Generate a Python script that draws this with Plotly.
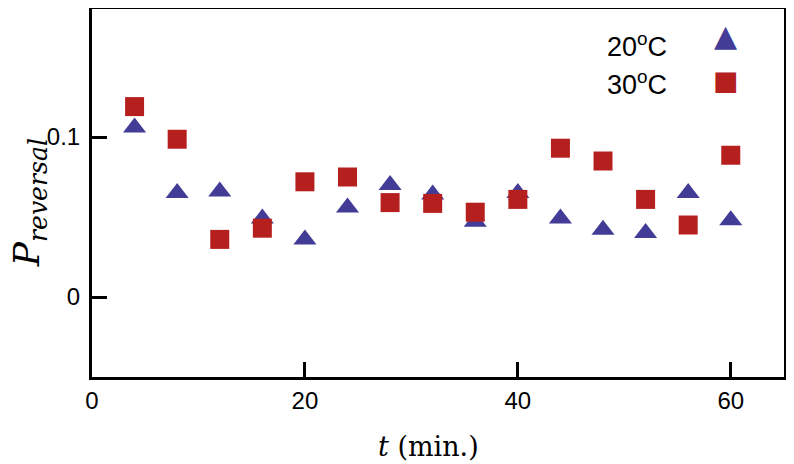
import plotly.graph_objects as go

t_minutes = [4, 8, 12, 16, 20, 24, 28, 32, 36, 40, 44, 48, 52, 56, 60]
p_20C = [0.106, 0.065, 0.066, 0.049, 0.036, 0.056, 0.070, 0.064, 0.047, 0.065, 0.049, 0.042, 0.040, 0.065, 0.048]
p_30C = [0.119, 0.0986, 0.036, 0.043, 0.072, 0.075, 0.059, 0.0585, 0.053, 0.061, 0.093, 0.085, 0.061, 0.045, 0.0886]
x_ticks = [0, 20, 40, 60]
y_ticks = [0, 0.1]
y_tick_labels = ["0", "0.1"]

BLUE = "#433c96"
RED = "#b5201f"
SERIF = "DejaVu Serif, Liberation Serif"
SANS = "Liberation Sans, Arial"

fig = go.Figure()
fig.add_trace(go.Scatter(x=t_minutes, y=p_20C, mode="markers", name="20°C",
                         marker=dict(symbol="triangle-up", size=20, color=BLUE, line=dict(width=0))))
fig.add_trace(go.Scatter(x=t_minutes, y=p_30C, mode="markers", name="30°C",
                         marker=dict(symbol="square", size=19, color=RED, line=dict(width=0))))

axis_common = dict(showline=True, linecolor="black", linewidth=3, mirror=True,
                   ticks="inside", ticklen=15, tickwidth=3, tickcolor="black",
                   showgrid=False, zeroline=False, automargin=False,
                   tickfont=dict(family=SANS, size=24, color="black"))

# page body adds an 8px offset, so the figure is sized to fill the rest of the window
fig.update_layout(
    width=786, height=456,
    margin=dict(l=84, r=10, t=1, b=87, autoexpand=False),
    paper_bgcolor="white", plot_bgcolor="white",
    showlegend=False,
    xaxis=dict(range=[0, 65], tickvals=x_ticks, ticktext=[str(v) for v in x_ticks], **axis_common),
    yaxis=dict(range=[-0.05, 0.18], tickvals=y_ticks, ticktext=y_tick_labels,
               ticklabelstandoff=4, **axis_common),
)

# axis titles
fig.add_annotation(xref="paper", yref="paper", x=0.486, y=-0.188, xanchor="center", yanchor="middle",
                   text="<i>t</i> (min.)", showarrow=False,
                   font=dict(family=SERIF, size=27, color="black"))
fig.add_annotation(xref="paper", yref="paper", x=-0.09, y=0.474, xanchor="center", yanchor="middle",
                   text="<i>P</i><sub><i>reversal</i></sub>", textangle=-90, showarrow=False,
                   borderpad=0,
                   font=dict(family=SERIF, size=36, color="black"))

# legend (text left, symbol right)
legend_items = [("20<sup>o</sup>C", "▲", BLUE, 30, 0.901, 0.026), ("30<sup>o</sup>C", "■", RED, 27, 0.800, 0.005)]
for label, sym, col, ssize, yy, dy in legend_items:
    fig.add_annotation(xref="paper", yref="paper", x=0.834, y=yy, xanchor="right", yanchor="middle",
                       text=label, showarrow=False,
                       font=dict(family=SANS, size=27, color="black"))
    fig.add_annotation(xref="paper", yref="paper", x=0.916, y=yy + dy, xanchor="center", yanchor="middle",
                       text=sym, showarrow=False,
                       font=dict(family="DejaVu Sans", size=ssize, color=col))

fig.write_html("out.html")
